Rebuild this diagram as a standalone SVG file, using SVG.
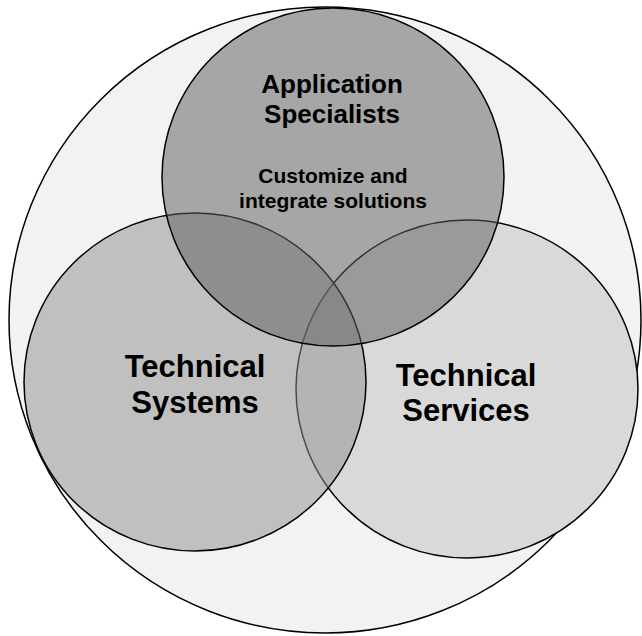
<svg xmlns="http://www.w3.org/2000/svg" width="642" height="636" viewBox="0 0 642 636">
<style>
.c{stroke:#000;stroke-width:1.5}
.t{font-family:"Liberation Sans",Arial,sans-serif;font-weight:bold;fill:#000;text-anchor:middle}
</style>
<rect width="642" height="636" fill="#fff"/>
<g id="outer"><ellipse class="c" cx="325" cy="320" rx="316" ry="313" fill="#f2f2f2"/></g>
<g id="services">
<ellipse class="c" cx="467" cy="389" rx="171" ry="169" fill="#d9d9d9"/>
</g>
<g id="systems">
<ellipse class="c" cx="195" cy="382" rx="171" ry="169" fill="#929292" fill-opacity="0.52"/>
</g>
<g id="specialists">
<ellipse class="c" cx="333" cy="177" rx="171" ry="169" fill="#606060" fill-opacity="0.52"/>
</g>
<g id="labels">
<text class="t" x="332" y="93" font-size="26">Application</text>
<text class="t" x="332" y="123" font-size="26">Specialists</text>
<text class="t" x="333" y="183" font-size="21">Customize and</text>
<text class="t" x="333" y="208" font-size="21">integrate solutions</text>
<text class="t" x="195" y="377" font-size="31">Technical</text>
<text class="t" x="195" y="413" font-size="31">Systems</text>
<text class="t" x="466" y="386" font-size="31">Technical</text>
<text class="t" x="466" y="421" font-size="31">Services</text>
</g>
</svg>
